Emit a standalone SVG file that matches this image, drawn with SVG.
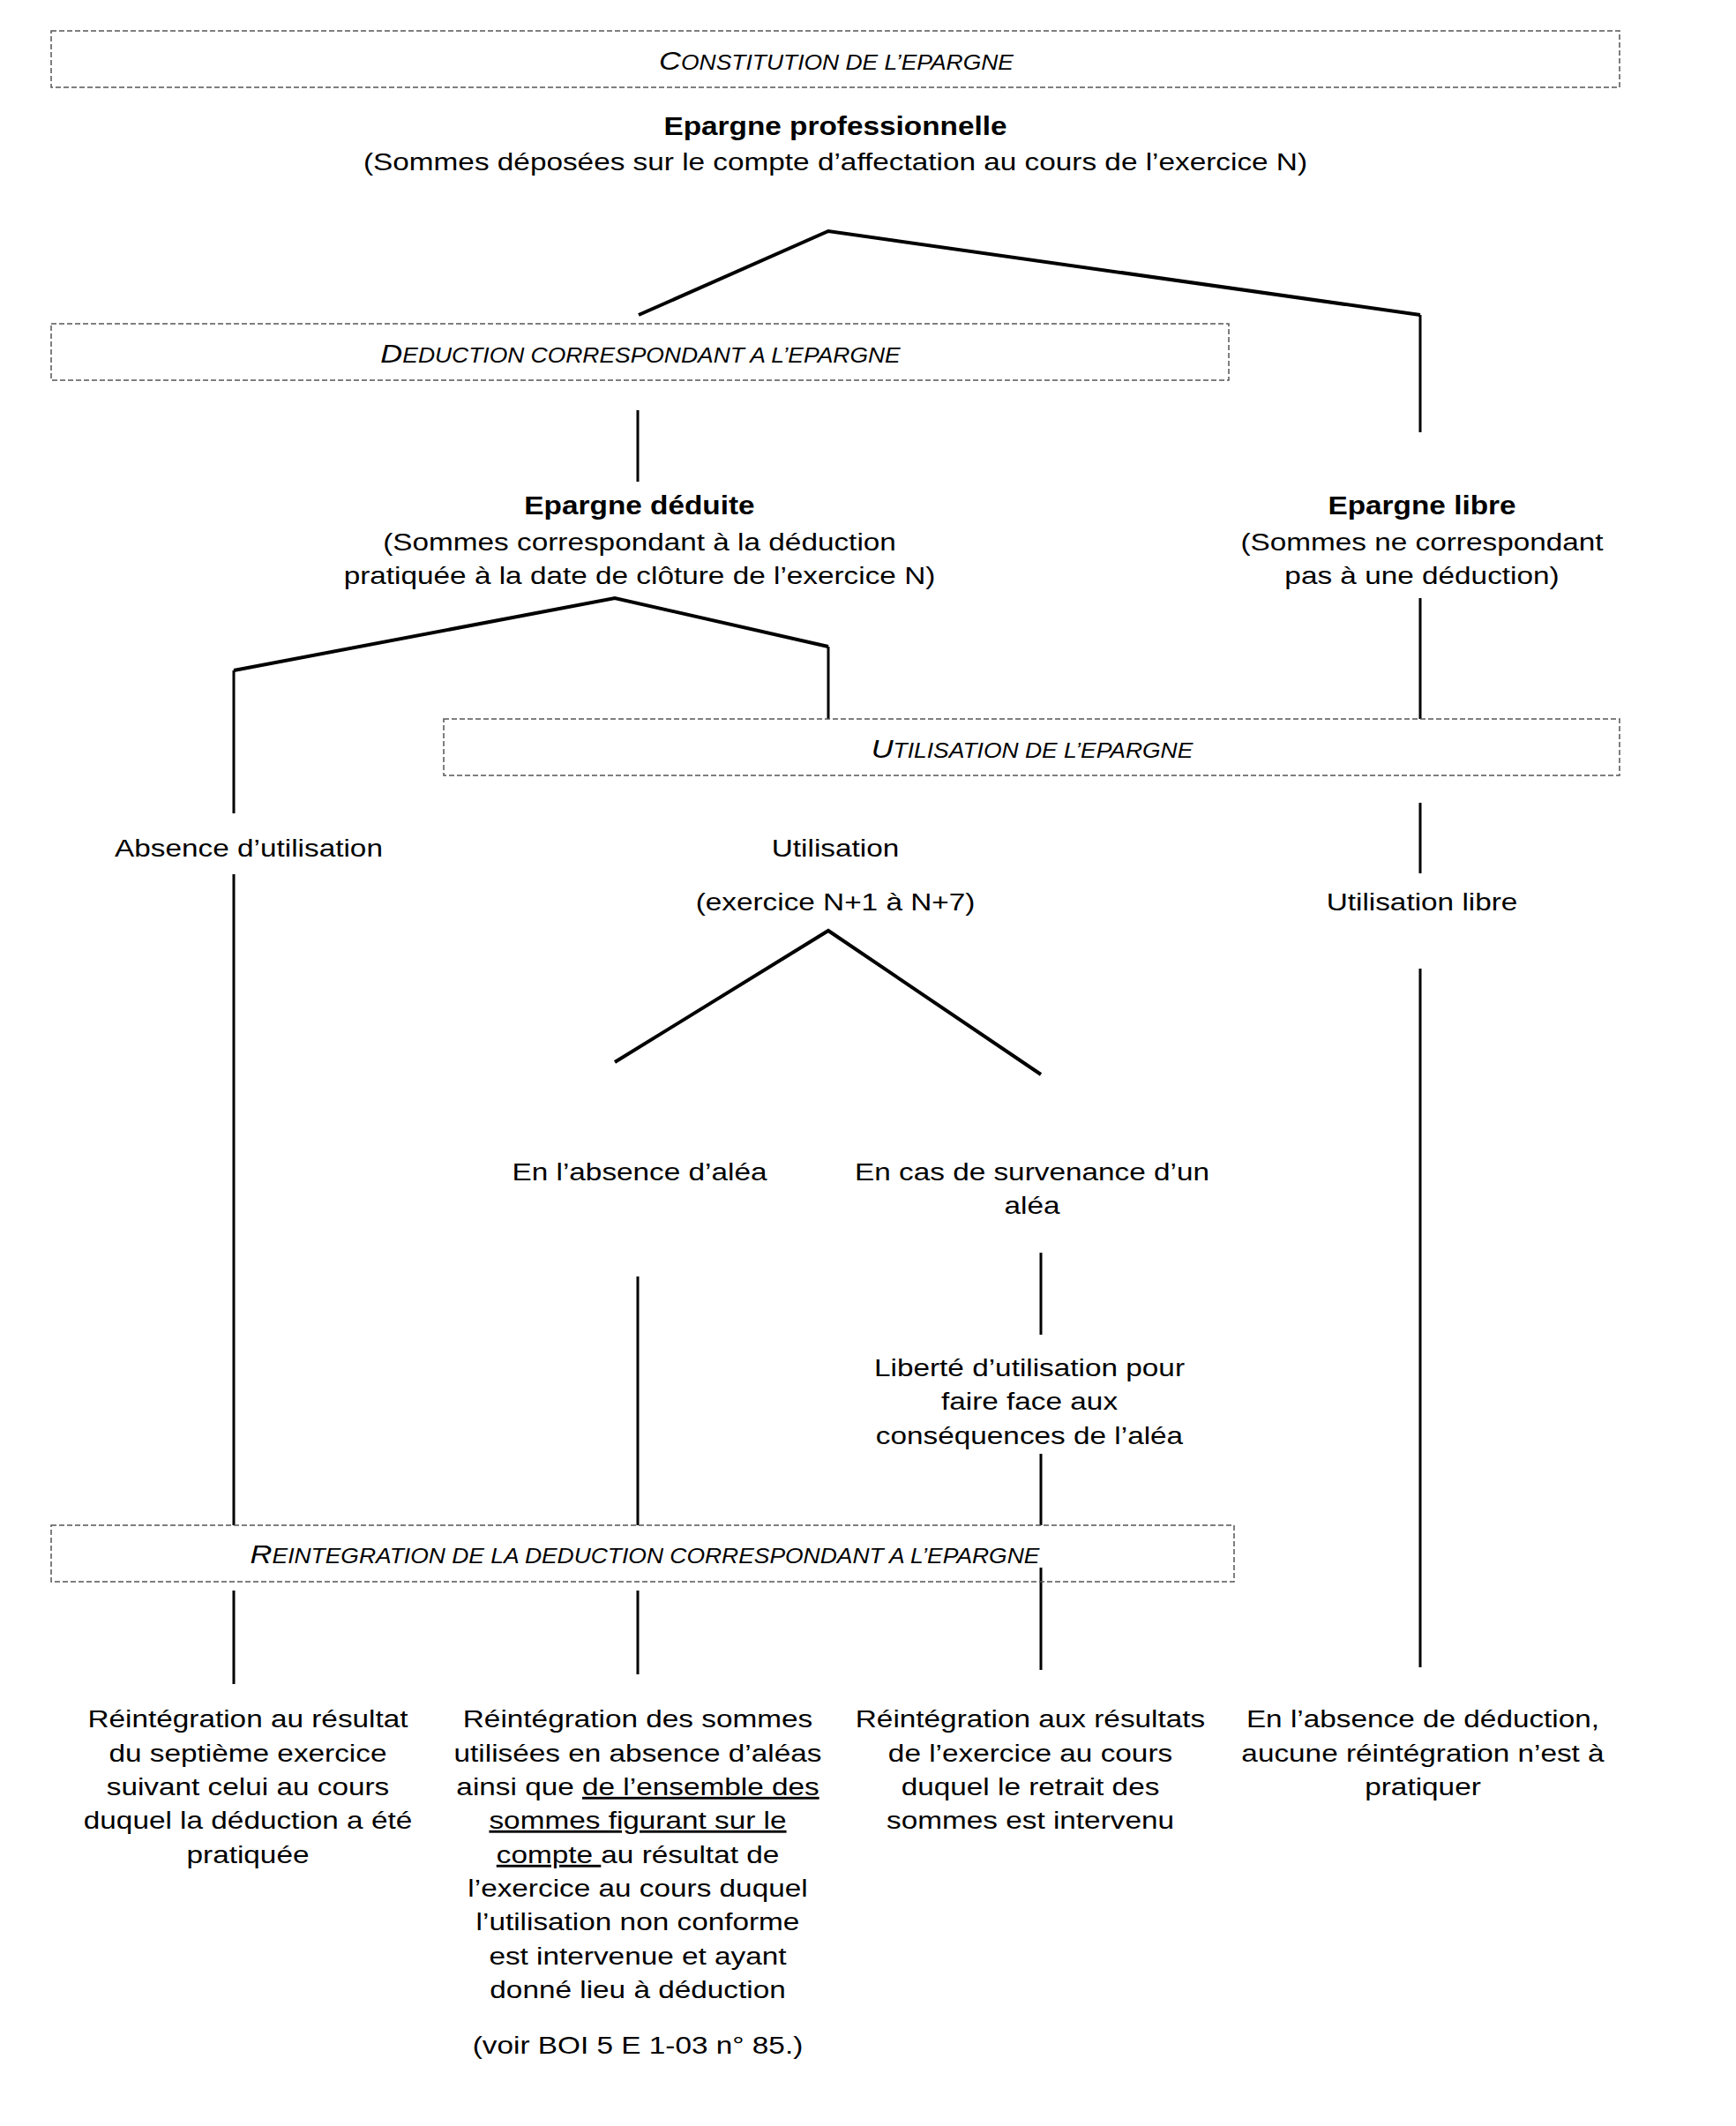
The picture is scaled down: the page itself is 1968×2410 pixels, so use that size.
<svg xmlns="http://www.w3.org/2000/svg" width="1968" height="2410" viewBox="0 0 1968 2410">
<style>
text{font-family:"Liberation Sans",Arial,sans-serif;fill:#000;text-anchor:middle}
.t{font-size:28.5px}
.b{font-size:29px;font-weight:bold}
.lbl{font-size:23px;font-style:italic}
.big{font-size:30px}
.box{fill:none;stroke:#555;stroke-width:1.5;stroke-dasharray:6 3}
.c{fill:none;stroke:#000;stroke-width:3;stroke-linejoin:miter}
.d{fill:none;stroke:#000;stroke-width:4;stroke-linejoin:miter}
</style>
<rect width="1968" height="2410" fill="#fff"/>
<g id="connectors">
<polyline class="d" points="724,357 939,262 1610,357"/>
<line class="c" x1="1610" y1="357" x2="1610" y2="490"/>
<line class="c" x1="723" y1="465" x2="723" y2="546"/>
<polyline class="d" points="265,760 697,678 939,733"/>
<line class="c" x1="265" y1="760" x2="265" y2="922"/>
<line class="c" x1="939" y1="733" x2="939" y2="815"/>
<line class="c" x1="1610" y1="678" x2="1610" y2="815"/>
<line class="c" x1="1610" y1="910" x2="1610" y2="990"/>
<line class="c" x1="265" y1="991" x2="265" y2="1729"/>
<polyline class="d" points="697,1204 939,1055 1180,1218"/>
<line class="c" x1="723" y1="1447" x2="723" y2="1729"/>
<line class="c" x1="1180" y1="1420" x2="1180" y2="1513"/>
<line class="c" x1="1180" y1="1648" x2="1180" y2="1729"/>
<line class="c" x1="265" y1="1803" x2="265" y2="1909"/>
<line class="c" x1="723" y1="1803" x2="723" y2="1898"/>
<line class="c" x1="1180" y1="1777" x2="1180" y2="1893"/>
<line class="c" x1="1610" y1="1098" x2="1610" y2="1890"/>
</g>
<g id="n-constitution">
<rect class="box" x="58" y="35" width="1778" height="64"/>
<text class="lbl" transform="translate(948,0) scale(1.15,1)" x="0" y="79"><tspan class="big">C</tspan>ONSTITUTION DE L’EPARGNE</text>
</g>
<g id="n-epargne-pro" transform="translate(947,0)">
<text class="b" transform="scale(1.15,1)" x="0" y="153">Epargne professionnelle</text>
<text class="t" transform="scale(1.17,1)" x="0" y="193">(Sommes déposées sur le compte d’affectation au cours de l’exercice N)</text>
</g>
<g id="n-deduction">
<rect class="box" x="58" y="367" width="1335" height="64"/>
<text class="lbl" transform="translate(726,0) scale(1.15,1)" x="0" y="411"><tspan class="big">D</tspan>EDUCTION CORRESPONDANT A L’EPARGNE</text>
</g>
<g id="n-epargne-deduite" transform="translate(725,0)">
<text class="b" transform="scale(1.15,1)" x="0" y="583">Epargne déduite</text>
<text class="t" transform="scale(1.17,1)" x="0" y="624">(Sommes correspondant à la déduction</text>
<text class="t" transform="scale(1.17,1)" x="0" y="662">pratiquée à la date de clôture de l’exercice N)</text>
</g>
<g id="n-epargne-libre" transform="translate(1612,0)">
<text class="b" transform="scale(1.15,1)" x="0" y="583">Epargne libre</text>
<text class="t" transform="scale(1.17,1)" x="0" y="624">(Sommes ne correspondant</text>
<text class="t" transform="scale(1.17,1)" x="0" y="662">pas à une déduction)</text>
</g>
<g id="n-utilisation-box">
<rect class="box" x="503" y="815" width="1333" height="64"/>
<text class="lbl" transform="translate(1170,0) scale(1.15,1)" x="0" y="859"><tspan class="big">U</tspan>TILISATION DE L’EPARGNE</text>
</g>
<g id="n-absence" transform="translate(282,0)">
<text class="t" transform="scale(1.17,1)" x="0" y="971">Absence d’utilisation</text>
</g>
<g id="n-utilisation" transform="translate(947,0)">
<text class="t" transform="scale(1.17,1)" x="0" y="971">Utilisation</text>
<text class="t" transform="scale(1.17,1)" x="0" y="1032">(exercice N+1 à N+7)</text>
</g>
<g id="n-utilisation-libre" transform="translate(1612,0)">
<text class="t" transform="scale(1.17,1)" x="0" y="1032">Utilisation libre</text>
</g>
<g id="n-absence-alea" transform="translate(725,0)">
<text class="t" transform="scale(1.17,1)" x="0" y="1338">En l’absence d’aléa</text>
</g>
<g id="n-survenance" transform="translate(1170,0)">
<text class="t" transform="scale(1.17,1)" x="0" y="1338">En cas de survenance d’un</text>
<text class="t" transform="scale(1.17,1)" x="0" y="1376">aléa</text>
</g>
<g id="n-liberte" transform="translate(1167,0)">
<text class="t" transform="scale(1.17,1)" x="0" y="1560">Liberté d’utilisation pour</text>
<text class="t" transform="scale(1.17,1)" x="0" y="1598">faire face aux</text>
<text class="t" transform="scale(1.17,1)" x="0" y="1637">conséquences de l’aléa</text>
</g>
<g id="n-reintegration-box">
<rect class="box" x="58" y="1729" width="1341" height="64"/>
<text class="lbl" transform="translate(731,0) scale(1.15,1)" x="0" y="1772"><tspan class="big">R</tspan>EINTEGRATION DE LA DEDUCTION CORRESPONDANT A L’EPARGNE</text>
</g>
<g id="n-col1" transform="translate(281,0)">
<text class="t" transform="scale(1.17,1)" x="0" y="1958">Réintégration au résultat</text>
<text class="t" transform="scale(1.17,1)" x="0" y="1997">du septième exercice</text>
<text class="t" transform="scale(1.17,1)" x="0" y="2035">suivant celui au cours</text>
<text class="t" transform="scale(1.17,1)" x="0" y="2073">duquel la déduction a été</text>
<text class="t" transform="scale(1.17,1)" x="0" y="2112">pratiquée</text>
</g>
<g id="n-col2" transform="translate(723,0)">
<text class="t" transform="scale(1.17,1)" x="0" y="1958">Réintégration des sommes</text>
<text class="t" transform="scale(1.17,1)" x="0" y="1997">utilisées en absence d’aléas</text>
<text class="t" transform="scale(1.17,1)" x="0" y="2035">ainsi que <tspan text-decoration="underline">de l’ensemble des</tspan></text>
<text class="t" transform="scale(1.17,1)" x="0" y="2073" text-decoration="underline">sommes figurant sur le</text>
<text class="t" transform="scale(1.17,1)" x="0" y="2112"><tspan text-decoration="underline">compte </tspan>au résultat de</text>
<text class="t" transform="scale(1.17,1)" x="0" y="2150">l’exercice au cours duquel</text>
<text class="t" transform="scale(1.17,1)" x="0" y="2188">l’utilisation non conforme</text>
<text class="t" transform="scale(1.17,1)" x="0" y="2227">est intervenue et ayant</text>
<text class="t" transform="scale(1.17,1)" x="0" y="2265">donné lieu à déduction</text>
<text class="t" transform="scale(1.17,1)" x="0" y="2328">(voir BOI 5 E 1-03 n° 85.)</text>
</g>
<g id="n-col3" transform="translate(1168,0)">
<text class="t" transform="scale(1.17,1)" x="0" y="1958">Réintégration aux résultats</text>
<text class="t" transform="scale(1.17,1)" x="0" y="1997">de l’exercice au cours</text>
<text class="t" transform="scale(1.17,1)" x="0" y="2035">duquel le retrait des</text>
<text class="t" transform="scale(1.17,1)" x="0" y="2073">sommes est intervenu</text>
</g>
<g id="n-col4" transform="translate(1613,0)">
<text class="t" transform="scale(1.17,1)" x="0" y="1958">En l’absence de déduction,</text>
<text class="t" transform="scale(1.17,1)" x="0" y="1997">aucune réintégration n’est à</text>
<text class="t" transform="scale(1.17,1)" x="0" y="2035">pratiquer</text>
</g>
</svg>
